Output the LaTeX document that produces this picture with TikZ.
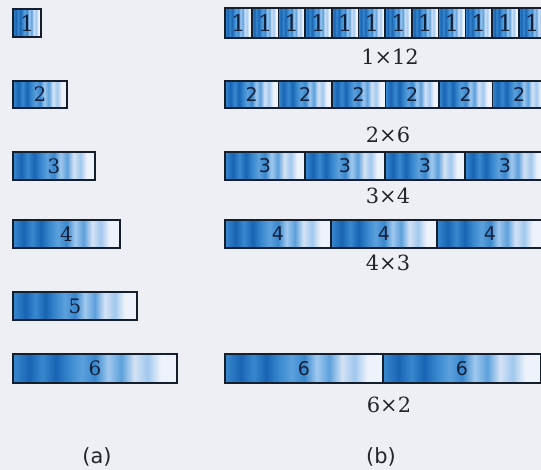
\documentclass[tikz,border=0pt]{standalone}
\usepackage{fontspec}
\newfontfamily\serifd{DejaVu Serif}
\newfontfamily\sansd{DejaVu Sans}
\definecolor{bg}{RGB}{237,239,245}
\definecolor{sdk}{RGB}{24,100,180}
\definecolor{smd}{RGB}{56,136,206}
\definecolor{smx}{RGB}{92,160,220}
\definecolor{slt}{RGB}{160,200,238}
\definecolor{svl}{RGB}{212,226,245}
\definecolor{swh}{RGB}{238,242,250}
\definecolor{edge}{RGB}{20,30,45}
\definecolor{ink}{RGB}{20,32,58}
\definecolor{labink}{RGB}{35,35,42}
\pgfdeclarehorizontalshading{boxstripe}{100bp}{color(0bp)=(smd); color(25bp)=(smd); color(30bp)=(sdk); color(34bp)=(smd); color(38bp)=(sdk); color(42bp)=(smd); color(46bp)=(smx); color(50bp)=(smd); color(54bp)=(slt); color(58bp)=(smx); color(62bp)=(svl); color(66bp)=(slt); color(70bp)=(swh); color(75bp)=(swh); color(100bp)=(swh)}
\tikzset{
  cellbox/.style={draw=edge, line width=1.6bp, shading=boxstripe, shade, inner sep=0pt, outer sep=0pt, anchor=north west, text=ink},
  lnum/.style={font=\serifd\fontsize{20}{20}\selectfont},
  lone/.style={font=\serifd\fontsize{22}{22}\selectfont},
  rone/.style={font=\serifd\fontsize{23}{23}\selectfont},
  rnum/.style={font=\sansd\fontsize{19}{19}\selectfont},
  lab/.style={font=\serifd\fontsize{21}{21}\selectfont, text=labink},
  captext/.style={font=\sansd\fontsize{21}{21}\selectfont, text=labink}
}
\begin{document}
\begin{tikzpicture}[x=1bp,y=-1bp]
\useasboundingbox (0,0) rectangle (541,470);
\fill[bg] (0,0) rectangle (541,470);
\clip (0,0) rectangle (541,470);
% (a) left column
\node[cellbox, lone, minimum width=28bp, minimum height=28bp] (a1) at (13,9) {1};
\node[cellbox, lnum, minimum width=54bp, minimum height=27bp] (a2) at (13,81) {2};
\node[cellbox, lnum, minimum width=82bp, minimum height=28bp] (a3) at (13,152) {3};
\node[cellbox, lnum, minimum width=107bp, minimum height=28bp] (a4) at (13,220) {4};
\node[cellbox, lnum, minimum width=124bp, minimum height=28bp] (a5) at (13,292) {5};
\node[cellbox, lnum, minimum width=164bp, minimum height=29bp] (a6) at (13,354) {6};
% (b) right column
\foreach \i in {0,...,11}
  \node[cellbox, rone, minimum width=26.7bp, minimum height=30bp] (b1c\i) at ({225+26.7*\i},8) {1};
\foreach \i in {0,...,5}
  \node[cellbox, rnum, minimum width=53.5bp, minimum height=27bp] (b2c\i) at ({225+53.5*\i},81) {2};
\foreach \i in {0,...,3}
  \node[cellbox, rnum, minimum width=80bp, minimum height=28bp] (b3c\i) at ({225+80*\i},152) {3};
\foreach \i in {0,...,2}
  \node[cellbox, rnum, minimum width=106bp, minimum height=28bp] (b4c\i) at ({225+106*\i},220) {4};
\foreach \i in {0,...,1}
  \node[cellbox, rnum, minimum width=158bp, minimum height=29bp] (b6c\i) at ({225+158*\i},354) {6};
% labels
\node[lab] (l1) at (390,57) {1×12};
\node[lab] (l2) at (388,135) {2×6};
\node[lab] (l3) at (388,196) {3×4};
\node[lab] (l4) at (388,263) {4×3};
\node[lab] (l6) at (389,405) {6×2};
\node[captext] (capa) at (97,457) {(a)};
\node[captext] (capb) at (381,457) {(b)};
\end{tikzpicture}
\end{document}
